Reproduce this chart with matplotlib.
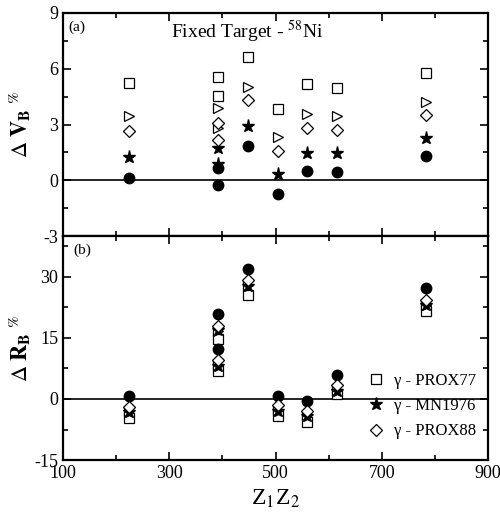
import matplotlib
matplotlib.use("Agg")
import matplotlib.pyplot as plt
from matplotlib.ticker import MultipleLocator

plt.rcParams.update({
    "font.family": "Liberation Serif",
    "mathtext.fontset": "stix",
    "font.size": 13,
    "axes.unicode_minus": False,
})

# Z1*Z2 for projectiles on 58Ni (two runs at 392)
z1z2 = [224, 392, 392, 448, 504, 560, 616, 784]

# (a) velocity shift, %
dv_prox77 = [5.21, 5.57, 4.51, 6.64, 3.86, 5.17, 4.99, 5.75]
dv_tri = [3.47, 3.90, 2.82, 5.00, 2.33, 3.56, 3.45, 4.22]
dv_prox88 = [2.64, 3.09, 2.19, 4.31, 1.58, 2.82, 2.69, 3.50]
dv_mn1976 = [1.24, 1.74, 0.90, 2.91, 0.36, 1.47, 1.47, 2.28]
dv_circ = [0.13, 0.66, -0.23, 1.87, -0.72, 0.50, 0.45, 1.29]

# (b) radius shift, %
dr_prox77 = [-4.7, 14.8, 6.8, 25.5, -4.1, -5.6, 1.2, 21.7]
dr_tri = [-3.0, 16.6, 8.4, 28.0, -2.7, -4.0, 2.2, 23.0]
dr_prox88 = [-1.9, 18.0, 9.5, 29.2, -1.6, -3.0, 3.5, 24.4]
dr_mn1976 = [-3.3, 16.9, 8.2, 27.8, -2.9, -4.1, 2.0, 23.0]
dr_circ = [0.8, 20.8, 12.2, 32.0, 0.7, -0.6, 5.8, 27.3]

fig = plt.figure(figsize=(5.0, 5.24), dpi=100)
ax1 = fig.add_axes([0.126, 0.5496, 0.85, 0.4256])
ax2 = fig.add_axes([0.126, 0.122, 0.85, 0.4276], sharex=ax1)

open_kw = dict(linestyle="none", mfc="white", mec="black", mew=0.9)
filled_kw = dict(linestyle="none", color="black")


def draw(ax, sq, tri, dia, star, circ, legend=False):
    ax.plot(z1z2, sq, marker="s", ms=6.5, label="γ - PROX77" if legend else None, **open_kw)
    ax.plot(z1z2, tri, marker=">", ms=7, **open_kw)
    ax.plot(z1z2, circ, marker="o", ms=7.5, **filled_kw)
    ax.plot(z1z2, star, marker="*", ms=9.5, label="γ - MN1976" if legend else None, **filled_kw)
    ax.plot(z1z2, dia, marker="D", ms=6.5, label="γ - PROX88" if legend else None, **open_kw)
    ax.axhline(0, color="black", lw=1.2, zorder=0)


draw(ax1, dv_prox77, dv_tri, dv_prox88, dv_mn1976, dv_circ)
draw(ax2, dr_prox77, dr_tri, dr_prox88, dr_mn1976, dr_circ, legend=True)

for ax in (ax1, ax2):
    ax.tick_params(which="both", direction="in", top=True, right=True, width=1.2)
    ax.tick_params(which="major", length=6)
    ax.tick_params(which="minor", length=3.5)
    for sp in ax.spines.values():
        sp.set_linewidth(1.6)

ax1.set_xlim(100, 900)
ax1.xaxis.set_major_locator(MultipleLocator(200, offset=100))
ax1.xaxis.set_minor_locator(MultipleLocator(100))
ax1.tick_params(labelbottom=False)

ax1.set_ylim(-3, 9)
ax1.yaxis.set_major_locator(MultipleLocator(3))
ax1.yaxis.set_minor_locator(MultipleLocator(1.5))
ax2.set_ylim(-15, 40)
ax2.yaxis.set_major_locator(MultipleLocator(15))
ax2.yaxis.set_minor_locator(MultipleLocator(7.5))

ax1.set_ylabel(r"$\Delta\ \mathbf{V}_{\mathbf{B}}\ ^{\%}$", fontsize=16)
ax2.set_ylabel(r"$\Delta\ \mathbf{R}_{\mathbf{B}}\ ^{\%}$", fontsize=16)
ax2.set_xlabel(r"Z$_1$Z$_2$", fontsize=17)
for ax in (ax1, ax2):
    ax.yaxis.set_label_coords(-0.07, 0.5)

ax1.text(0.013, 0.965, "(a)", transform=ax1.transAxes, fontsize=11, va="top")
ax2.text(0.025, 0.965, "(b)", transform=ax2.transAxes, fontsize=11, va="top")
ax1.text(0.433, 0.915, r"Fixed Target - $^{58}$Ni", transform=ax1.transAxes,
         fontsize=14, ha="center", va="center")

ax2.legend(loc="lower right", frameon=False, fontsize=12, handlelength=0.8,
           handletextpad=0.7, borderaxespad=0.3, labelspacing=0.55,
           bbox_to_anchor=(1.0, 0.04))

fig.savefig("out.png", dpi=100)
